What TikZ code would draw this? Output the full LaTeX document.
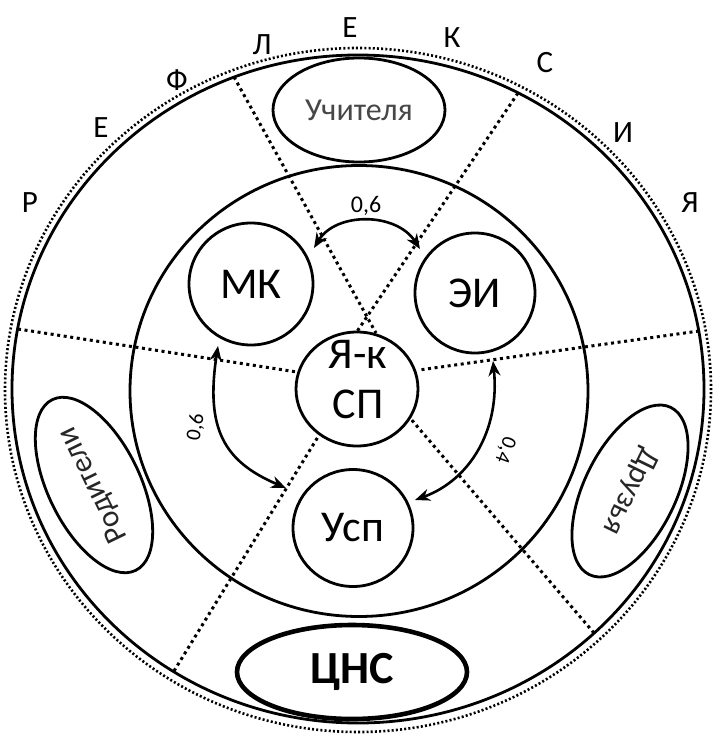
\documentclass[tikz,border=0pt]{standalone}
\usepackage{fontspec}
\setmainfont{Carlito}
\usetikzlibrary{shapes.geometric,arrows.meta}
\begin{document}
\begin{tikzpicture}[x=1pt,y=-1pt,
  ring/.style={draw=black, line width=2.8pt, ellipse, inner sep=0pt},
  divider/.style={line width=3pt, dash pattern=on 3pt off 3.6pt, black},
  finedots/.style={draw=black, line width=2.6pt, dash pattern=on 2pt off 2.2pt, ellipse, inner sep=0pt},
  link/.style={line width=2.6pt, {Stealth[length=15pt,width=12pt]}-{Stealth[length=15pt,width=12pt]}},
  bigtxt/.style={font=\fontsize{44}{50}\selectfont},
  lettxt/.style={font=\fontsize{31}{36}\selectfont},
  numtxt/.style={font=\fontsize{24}{28}\selectfont},
  smalltxt/.style={font=\fontsize{21}{24}\selectfont}]
\useasboundingbox (0,0) rectangle (712,736);
\fill[white] (0,0) rectangle (712,736);

% outer rings
\node[finedots, minimum width=706, minimum height=684] (outdots) at (358,390) {};
\node[ring, minimum width=692, minimum height=668] (outer) at (358,389) {};
\node[ring, minimum width=458, minimum height=451] (middle) at (359,391) {};

% divider end points
\coordinate (aout) at (234,77);   \coordinate (ain) at (376,333);
\coordinate (bout) at (518,93);   \coordinate (bin) at (356,333);
\coordinate (cout) at (18,329);   \coordinate (cin) at (297,372);
\coordinate (dout) at (699,331);  \coordinate (din) at (419,370);
\coordinate (eout) at (174,671);  \coordinate (ein) at (321,432);
\coordinate (fout) at (594,633);  \coordinate (fin) at (410,418);
\draw[divider] (aout) -- (ain);
\draw[divider] (bout) -- (bin);
\draw[divider] (cout) -- (cin);
\draw[divider] (dout) -- (din);
\draw[divider] (eout) -- (ein);
\draw[divider] (fout) -- (fin);

% inner circles
\node[ring, fill=white, minimum width=122, minimum height=114] (self) at (357,389) {};
\node[bigtxt, align=center, inner sep=0pt] (selftxt) at (358,380) {Я-к\\СП};
\node[ring, minimum width=124, minimum height=122, bigtxt] (mk) at (251,284) {МК};
\node[ring, minimum width=120, minimum height=120, bigtxt] (ei) at (475,293) {ЭИ};
\node[ring, minimum width=120, minimum height=117, bigtxt] (usp) at (353,528) {Усп};

% outer ellipses
\node[ring, minimum width=172, minimum height=104, font=\fontsize{32}{38}\selectfont, text=black!72] (teach) at (359,110) {Учителя};
\node[ring, minimum width=190, minimum height=92, rotate=116, font=\fontsize{31}{36}\selectfont, text=black!85] (par) at (94,485) {Родители};
\node[ring, minimum width=186, minimum height=92, rotate=-116, font=\fontsize{31}{36}\selectfont, text=black!85] (fr) at (630,491) {Друзья};
\node[draw=black, line width=4.6pt, ellipse, inner sep=0pt, minimum width=230, minimum height=94,
  font=\fontsize{46}{52}\selectfont\bfseries] (cns) at (352,672) {ЦНС};

% arrows
\coordinate (t1) at (314,248); \coordinate (t2) at (420,249);
\draw[link] (t1) .. controls (336,212) and (396,212) .. (t2);
\coordinate (l1) at (218,346); \coordinate (l2) at (286,488);
\draw[link] (l1) .. controls (205,430) and (225,462) .. (l2);
\coordinate (r1) at (493,361); \coordinate (r2) at (415,500);
\draw[link] (r1) .. controls (500,430) and (470,480) .. (r2);

\node[numtxt] (n06) at (366,206) {0,6};
\node[smalltxt, rotate=80] (n06b) at (196,427) {0,6};
\node[smalltxt, rotate=-110] (n04) at (505,450) {0,4};

% letters round the top
\node[lettxt] (c1) at (30,203) {Р};
\node[lettxt] (c2) at (101,128) {Е};
\node[lettxt] (c3) at (177,80) {Ф};
\node[lettxt] (c4) at (262,45) {Л};
\node[lettxt] (c5) at (350,28) {Е};
\node[lettxt] (c6) at (452,38) {К};
\node[lettxt] (c7) at (545,63) {С};
\node[lettxt] (c8) at (623,133) {И};
\node[lettxt] (c9) at (690,203) {Я};
\end{tikzpicture}
\end{document}
